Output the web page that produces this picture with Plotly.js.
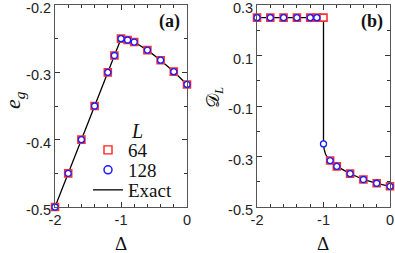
<!DOCTYPE html>
<html>
<head>
<meta charset="utf-8">
<script src="https://cdn.plot.ly/plotly-3.0.1.min.js"></script>
<style>html,body{margin:0;padding:0;background:#fff}#chart{width:395px;height:253px}</style>
</head>
<body>
<div id="chart"></div>
<script>
// Panel (a): ground-state energy e_g vs Delta
const deltaA = [-2, -1.8, -1.6, -1.4, -1.2, -1.1, -1.0, -0.9, -0.8, -0.6, -0.4, -0.2, 0];
const eg64   = [-0.5, -0.45, -0.4, -0.35, -0.3, -0.275, -0.25, -0.252, -0.255, -0.267, -0.282, -0.299, -0.318];
const eg128  = [-0.5, -0.45, -0.4, -0.35, -0.3, -0.275, -0.25, -0.252, -0.255, -0.267, -0.282, -0.299, -0.318];
const egExact = [-0.5, -0.45, -0.4, -0.35, -0.3, -0.275, -0.25, -0.252, -0.255, -0.267, -0.282, -0.299, -0.318];

// Panel (b): D_L vs Delta
const deltaB = [-2, -1.8, -1.6, -1.4, -1.2, -1.1, -1.0, -0.9, -0.8, -0.6, -0.4, -0.2, 0];
const dl64   = [0.25, 0.25, 0.25, 0.25, 0.25, 0.25, 0.25, -0.316, -0.339, -0.368, -0.391, -0.406, -0.418];
const dl128  = [0.25, 0.25, 0.25, 0.25, 0.25, 0.25, -0.25, -0.316, -0.339, -0.368, -0.391, -0.406, -0.418];
const deltaExactB = [-2, -1, -1, -0.99, -0.97, -0.95, -0.9, -0.8, -0.6, -0.4, -0.2, 0];
const dlExact     = [0.25, 0.25, -0.25, -0.272, -0.29, -0.300, -0.316, -0.339, -0.368, -0.391, -0.406, -0.418];

const SERIF = 'Liberation Serif, serif';
const SANS = 'Liberation Sans, Arial, sans-serif';
const sq = {symbol:'square-open', size:8, color:'#ff2020', line:{width:1.4, color:'#ff2020'}};
const sqFill = {symbol:'square', size:7, color:'#ffffff', line:{width:1.6, color:'#ff3030'}};
const circ = {symbol:'circle', size:6, color:'#ffffff', line:{width:1.3, color:'#1a1aff'}};

const traces = [
  {x: deltaA, y: egExact, mode:'lines', line:{color:'#000', width:1.3}, name:'Exact', xaxis:'x', yaxis:'y', showlegend:false, cliponaxis:false},
  {x: deltaA, y: eg64, mode:'markers', marker: sqFill, name:'64', xaxis:'x', yaxis:'y', showlegend:false, cliponaxis:false},
  {x: deltaA, y: eg128, mode:'markers', marker: circ, name:'128', xaxis:'x', yaxis:'y', showlegend:false, cliponaxis:false},
  {x: deltaExactB, y: dlExact, mode:'lines', line:{color:'#000', width:1.3}, name:'Exact', xaxis:'x2', yaxis:'y2', showlegend:false, cliponaxis:false},
  {x: deltaB, y: dl64, mode:'markers', marker: sqFill, name:'64', xaxis:'x2', yaxis:'y2', showlegend:false, cliponaxis:false},
  {x: deltaB, y: dl128, mode:'markers', marker: circ, name:'128', xaxis:'x2', yaxis:'y2', showlegend:false, cliponaxis:false},
  // legend entries (one legend each, to get the tight spacing of the reference)
  {x:[null], y:[null], mode:'markers', marker: sq, name:'64', xaxis:'x', yaxis:'y', showlegend:true, legend:'legend'},
  {x:[null], y:[null], mode:'markers', marker:{symbol:'circle-open', size:8, color:'#1a1aff', line:{width:1.5}}, name:'128', xaxis:'x', yaxis:'y', showlegend:true, legend:'legend2'},
  {x:[null], y:[null], mode:'lines', line:{color:'#000', width:1.3}, name:'Exact', xaxis:'x', yaxis:'y', showlegend:true, legend:'legend3'}
];

const axBase = {
  showgrid:false, zeroline:false, showline:true, linecolor:'#555', linewidth:1, mirror:'allticks',
  ticks:'inside', ticklen:5, tickcolor:'#333', tickwidth:1, ticklabeloverflow:'allow',
  tickfont:{family:SANS, size:14.5, color:'#222'}, fixedrange:true
};

const legBase = {x:88/395, xanchor:'left', yanchor:'middle', bgcolor:'rgba(0,0,0,0)',
  font:{family:SERIF, size:19, color:'#111'}, itemwidth:30, borderwidth:0};

const layout = {
  width:395, height:253, margin:{l:0, r:0, t:0, b:0},
  paper_bgcolor:'#fff', plot_bgcolor:'#fff', showlegend:true,
  xaxis: Object.assign({}, axBase, {domain:[55/395, 187/395], range:[-2,0], tickvals:[-2,-1,0], ticktext:['-2','-1','0'],
    minor:{dtick:0.2, ticks:'inside', ticklen:3, tickcolor:'#333', showgrid:false}, anchor:'y'}),
  yaxis: Object.assign({}, axBase, {domain:[1-207/253, 1-5/253], range:[-0.5,-0.2], tickvals:[-0.5,-0.4,-0.3,-0.2], ticktext:['-0.5','-0.4','-0.3','-0.2'],
    ticklabelshift:3, minor:{dtick:0.05, ticks:'inside', ticklen:3, tickcolor:'#333', showgrid:false}, anchor:'x'}),
  xaxis2: Object.assign({}, axBase, {domain:[257/395, 390/395], range:[-2,0], tickvals:[-2,-1,0], ticktext:['-2','-1','0'],
    minor:{dtick:0.2, ticks:'inside', ticklen:3, tickcolor:'#333', showgrid:false}, anchor:'y2'}),
  yaxis2: Object.assign({}, axBase, {domain:[1-207/253, 1-5/253], range:[-0.5,0.3], tickvals:[-0.5,-0.3,-0.1,0.1,0.3], ticktext:['-0.5','-0.3','-0.1','0.1','0.3'],
    ticklabelshift:3, minor:{dtick:0.1, ticks:'inside', ticklen:3, tickcolor:'#333', showgrid:false}, anchor:'x2'}),
  legend:  Object.assign({}, legBase, {y:1-150/253}),
  legend2: Object.assign({}, legBase, {y:1-170/253}),
  legend3: Object.assign({}, legBase, {y:1-190/253}),
  annotations:[
    {text:'<i>L</i>', xref:'paper', yref:'paper', x:129/395, y:1-131/253, xanchor:'left', yanchor:'middle', showarrow:false, font:{family:SERIF, size:20, color:'#111'}},
    {text:'<b>(a)</b>', xref:'paper', yref:'paper', x:182/395, y:1-22/253, xanchor:'right', yanchor:'middle', showarrow:false, font:{family:SERIF, size:18, color:'#111'}},
    {text:'<b>(b)</b>', xref:'paper', yref:'paper', x:385/395, y:1-22/253, xanchor:'right', yanchor:'middle', showarrow:false, font:{family:SERIF, size:18, color:'#111'}},
    {text:'Δ', xref:'paper', yref:'paper', x:121/395, y:1-243/253, xanchor:'center', yanchor:'middle', showarrow:false, font:{family:SERIF, size:19, color:'#111'}},
    {text:'Δ', xref:'paper', yref:'paper', x:323/395, y:1-243/253, xanchor:'center', yanchor:'middle', showarrow:false, font:{family:SERIF, size:19, color:'#111'}},
    {text:'<i>e</i><sub><i>g</i></sub>', textangle:-90, xref:'paper', yref:'paper', x:14/395, y:1-100/253, xanchor:'center', yanchor:'middle', showarrow:false, font:{family:SERIF, size:22, color:'#111'}},
    {text:'𝒟<sub><i>L</i></sub>', textangle:-90, xref:'paper', yref:'paper', x:214/395, y:1-98/253, xanchor:'center', yanchor:'middle', showarrow:false, font:{family:SERIF, size:18, color:'#111'}}
  ]
};

Plotly.newPlot('chart', traces, layout, {staticPlot:true, displayModeBar:false});
</script>
</body>
</html>
